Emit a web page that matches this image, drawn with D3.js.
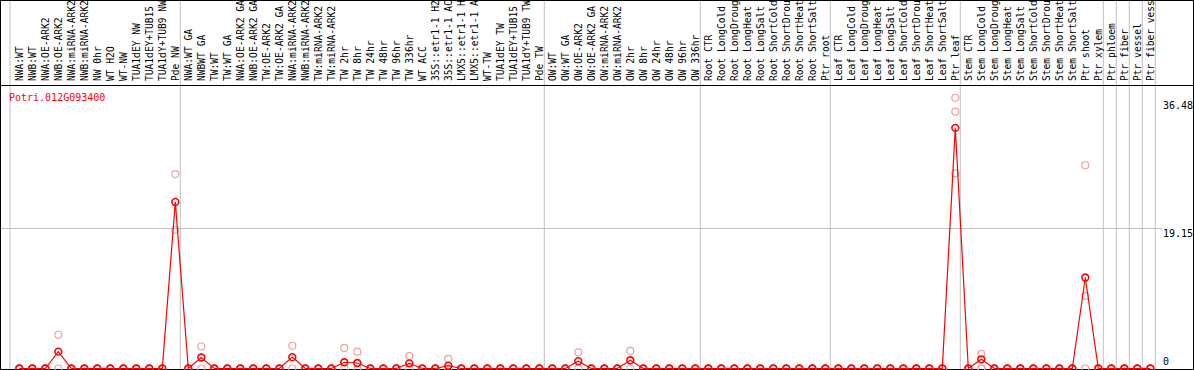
<!DOCTYPE html>
<html><head><meta charset="utf-8">
<script src="https://cdn.jsdelivr.net/npm/d3@7"></script>
<style>
body{margin:0;background:#fff}
svg{display:block}
text{font-family:"DejaVu Sans Mono",monospace}
</style>
</head><body>
<svg id="c" width="1194" height="370"></svg>
<script>
const geneId = "Potri.012G093400";

const categories = [
  "NWA:WT","NWB:WT","NWA:OE-ARK2","NWB:OE-ARK2","NWA:miRNA-ARK2","NWB:miRNA-ARK2","NW 0hr","WT H2O","WT-NW","TUA1dEY NW","TUA1dEY+TUB15","TUA1dY+TUB9 NW","Pde NW",
  "NWA:WT GA","NWBWT GA","TW:WT","TW:WT GA","NWA:OE-ARK2 GA","NWB:OE-ARK2 GA","TW:OE-ARK2","TW:OE-ARK2 GA","NWA:miRNA-ARK2","NWB:miRNA-ARK2","TW:miRNA-ARK2","TW:miRNA-ARK2","TW 2hr","TW 8hr","TW 24hr","TW 48hr","TW 96hr","TW 336hr","WT ACC","35S::etr1-1 H2","35S::etr1-1 AC","LMX5::etr1-1 H","LMX5::etr1-1 A","WT-TW","TUA1dEY TW","TUA1dEY+TUB15","TUA1dY+TUB9 TW","Pde TW",
  "OW:WT","OW:WT GA","OW:OE-ARK2","OW:OE-ARK2 GA","OW:miRNA-ARK2","OW:miRNA-ARK2","OW 2hr","OW 8hr","OW 24hr","OW 48hr","OW 96hr","OW 336hr",
  "Root CTR","Root LongCold","Root LongDroug","Root LongHeat","Root LongSalt","Root ShortCold","Root ShortDrou","Root ShortHeat","Root ShortSalt","Ptr root",
  "Leaf CTR","Leaf LongCold","Leaf LongDroug","Leaf LongHeat","Leaf LongSalt","Leaf ShortCold","Leaf ShortDrou","Leaf ShortHeat","Leaf ShortSalt","Ptr leaf",
  "Stem CTR","Stem LongCold","Stem LongDroug","Stem LongHeat","Stem LongSalt","Stem ShortCold","Stem ShortDrou","Stem ShortHeat","Stem ShortSalt","Ptr shoot","Ptr xylem",
  "Ptr phloem","Ptr fiber","Ptr vessel","Ptr fiber vess"
];

// index of the last column of each group (a grey separator follows it)
const groupEnds = [12, 40, 52, 62, 72, 83, 84, 85, 86, 87];

// mean expression (dark circles + line)
const means = [
  0,0,0,2.3,0,0,0,0,0,0,0,0,22.7,
  0,1.5,0,0,0,0,0,0,1.55,0,0,0,0.85,0.75,0,0,0,0.7,0,0,0.38,0,0,0,0,0,0,0,
  0,0,1.0,0,0,0,1.12,0,0,0,0,0,
  0,0,0,0,0,0,0,0,0,0,
  0,0,0,0,0,0,0,0,0,32.8,
  0,1.25,0,0,0,0,0,0,0,12.4,0,
  0,0,0,0
];

// replicate values (pale circles)
const rep1 = [
  0,0,0,4.6,0,0,0,0,0,0,0,0,26.5,
  0,3.0,0,0,0,0,0,0,3.1,0,0,0,2.8,2.3,0,0,0,1.7,0,0,1.3,0,0,0,0,0,0,0,
  0,0,2.2,0,0,0,2.4,0,0,0,0,0,
  0,0,0,0,0,0,0,0,0,0,
  0,0,0,0,0,0,0,0,0,36.9,
  0,2.0,0,0,0,0,0,0,0,27.7,0,
  0,0,0,0
];
const rep2 = [
  0,0,0,0,0,0,0,0,0,0,0,0,18.9,
  0,0,0,0,0,0,0,0,0,0,0,0,0,0,0,0,0,0,0,0,0,0,0,0,0,0,0,0,
  0,0,0,0,0,0,0,0,0,0,0,0,
  0,0,0,0,0,0,0,0,0,0,
  0,0,0,0,0,0,0,0,0,35.0,
  0,0,0,0,0,0,0,0,0,9.9,0,
  0,0,0,0
];
const rep3 = [
  null,null,null,null,null,null,null,null,null,null,null,null,null,
  null,null,null,null,null,null,null,null,null,null,null,null,null,null,null,null,null,null,null,null,null,null,null,null,null,null,null,null,
  null,null,null,null,null,null,null,null,null,null,null,null,
  0,0,0,0,0,0,0,0,0,0,
  0,0,0,0,0,0,0,0,0,26.6,
  0,0,0,0,0,0,0,0,0,0,0,
  0,0,0,0
];

const yTicks = [0, 19.15, 36.48];

const W = 1194, H = 370;
const svg = d3.select("#c");

const x = d3.scaleLinear().domain([0, categories.length - 1]).range([19.3, 19.3 + 13 * (categories.length - 1)]);
const y = d3.scaleLinear().domain([0, 19.15]).range([368.5, 228]);

// grey separators
const seps = [x(0) - 9.3].concat(groupEnds.map(i => x(i) + 5));
svg.append("g").selectAll("line").data(seps).join("line")
  .attr("x1", d => d).attr("x2", d => d)
  .attr("y1", 0).attr("y2", H)
  .attr("stroke", "#c0c0c0").attr("stroke-width", 1);

// horizontal grid line at middle tick
svg.append("g").selectAll("line").data(yTicks.filter(v => v > 0 && v < 30)).join("line")
  .attr("x1", 1).attr("x2", 1162)
  .attr("y1", d => Math.round(y(d)) + 0.5).attr("y2", d => Math.round(y(d)) + 0.5)
  .attr("stroke", "#c0c0c0").attr("stroke-width", 1);

// column labels
svg.append("g").selectAll("text").data(categories).join("text")
  .attr("transform", (d, i) => `translate(${x(i) + 3.6},81) rotate(-90)`)
  .attr("text-anchor", "start")
  .attr("font-size", "9.6px")
  .attr("fill", "#000")
  .text(d => d);

// frame and header separator
svg.append("rect").attr("x", 0.5).attr("y", 0.5).attr("width", W - 1).attr("height", H - 1)
  .attr("fill", "none").attr("stroke", "#000").attr("stroke-width", 1);
svg.append("line").attr("x1", 0).attr("x2", W).attr("y1", 85.5).attr("y2", 85.5)
  .attr("stroke", "#000").attr("stroke-width", 1);

// title
svg.append("text").attr("x", 9).attr("y", 101).attr("font-size", "10px")
  .attr("fill", "#ff0000").text(geneId);

// y tick labels (right)
svg.append("g").selectAll("text").data(yTicks).join("text")
  .attr("x", 1163)
  .attr("y", d => d === 0 ? y(d) - 3.2 : y(d) + 8.5)
  .attr("font-size", "10px").attr("fill", "#000")
  .text(d => d === 0 ? "0" : d.toFixed(2));

// pale replicate circles
const reps = [];
[rep1, rep2, rep3].forEach(arr => arr.forEach((v, i) => { if (v !== null) reps.push({i, v}); }));
svg.append("g").selectAll("circle").data(reps).join("circle")
  .attr("cx", d => x(d.i)).attr("cy", d => y(d.v)).attr("r", 3.5)
  .attr("fill", "none").attr("stroke", "#f0a0a0").attr("stroke-width", 1.2);

// mean line
const line = d3.line().x((d, i) => x(i)).y(d => y(d));
svg.append("path").datum(means).attr("d", line)
  .attr("fill", "none").attr("stroke", "#ff0000").attr("stroke-width", 1.2);

// mean circles
svg.append("g").selectAll("circle").data(means).join("circle")
  .attr("cx", (d, i) => x(i)).attr("cy", d => y(d)).attr("r", 3.4)
  .attr("fill", "none").attr("stroke", "#ff0000").attr("stroke-width", 1.6);
</script>
</body></html>
